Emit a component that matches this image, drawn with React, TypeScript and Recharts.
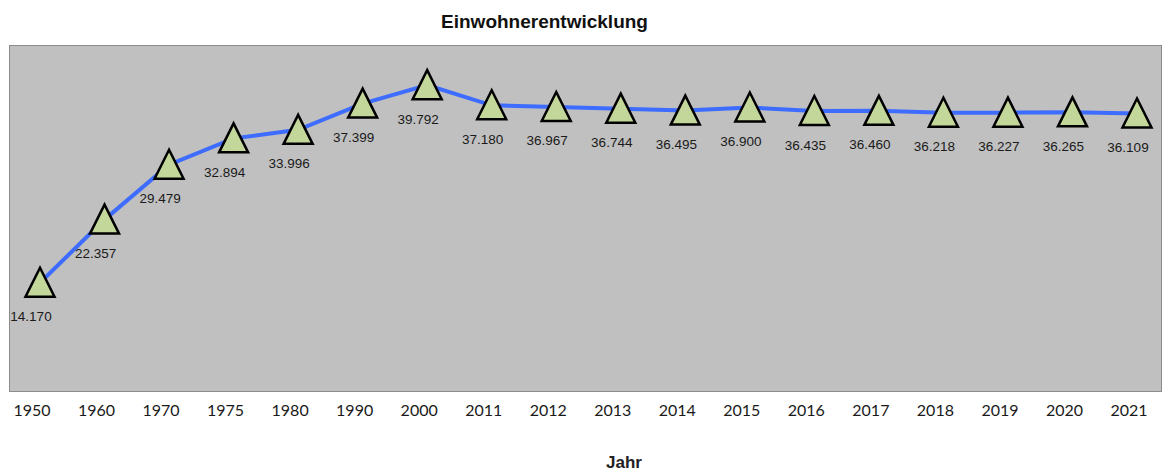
import React from 'react';
import { LineChart, Line, XAxis, YAxis, LabelList } from 'recharts';

// Jahre (Kategorien) und Einwohnerzahlen
const years = ['1950', '1960', '1970', '1975', '1980', '1990', '2000', '2011', '2012', '2013', '2014', '2015', '2016', '2017', '2018', '2019', '2020', '2021'];
const population = [14170, 22357, 29479, 32894, 33996, 37399, 39792, 37180, 36967, 36744, 36495, 36900, 36435, 36460, 36218, 36227, 36265, 36109];

const data = years.map((year, i) => ({ year, value: population[i] }));

const W = 1164;
const H = 471;
const PLOT = { left: 9, top: 45, right: 1162, bottom: 392 };

const fmt = (v: number) => (v / 1000).toFixed(3);

const Triangle = (props: any) => {
  const { cx, cy } = props;
  if (cx == null || cy == null) return null;
  const pts = `${cx},${cy - 15} ${cx - 14.5},${cy + 14} ${cx + 14.5},${cy + 14}`;
  return <polygon points={pts} fill="#c4d79b" stroke="#000" strokeWidth={2.5} strokeLinejoin="miter" />;
};

const PointLabel = (props: any) => {
  const { x, y, value } = props;
  return (
    <text x={x - 9} y={y + 34} textAnchor="middle" dominantBaseline="central"
      fontFamily="'Liberation Sans', Arial, sans-serif" fontSize={13.5} fill="#1a1a1a">
      {fmt(value)}
    </text>
  );
};

const YearTick = (props: any) => {
  const { x, payload } = props;
  return (
    <text x={x - 8} y={409} textAnchor="middle" dominantBaseline="central"
      fontFamily="Lato, 'Open Sans', sans-serif" fontSize={16} fill="#1a1a1a">
      {payload.value}
    </text>
  );
};

export default function App() {
  return (
    <div style={{ position: 'fixed', left: 0, top: 0, width: W, height: H, background: '#fff', overflow: 'hidden' }}>
      <div style={{
        position: 'absolute', left: PLOT.left, top: PLOT.top,
        width: PLOT.right - PLOT.left, height: PLOT.bottom - PLOT.top,
        boxSizing: 'border-box', border: '1px solid #8c8c8c', background: '#c0c0c0',
      }} />
      <div style={{
        position: 'absolute', left: 0, top: 11, width: 1089, textAlign: 'center',
        fontFamily: "'Liberation Sans', Arial, sans-serif", fontWeight: 'bold', fontSize: 19, color: '#111',
      }}>
        Einwohnerentwicklung
      </div>
      <div style={{
        position: 'absolute', left: 0, top: 453, width: 1248, textAlign: 'center',
        fontFamily: "'Liberation Sans', Arial, sans-serif", fontWeight: 'bold', fontSize: 17, color: '#222',
      }}>
        Jahr
      </div>
      <div style={{ position: 'absolute', left: 0, top: 0 }}>
        <LineChart width={W} height={H} data={data}
          margin={{ top: PLOT.top, right: W - PLOT.right, bottom: H - PLOT.bottom - 30, left: PLOT.left }}>
          <XAxis dataKey="year" height={30} axisLine={false} tickLine={false} interval={0}
            padding={{ left: 31, right: 25 }} tick={<YearTick />} />
          <YAxis hide domain={[0, 45000]} />
          <Line type="linear" dataKey="value" stroke="#3d6cff" strokeWidth={4}
            dot={<Triangle />} activeDot={false} isAnimationActive={false}>
            <LabelList dataKey="value" content={<PointLabel />} />
          </Line>
        </LineChart>
      </div>
    </div>
  );
}
